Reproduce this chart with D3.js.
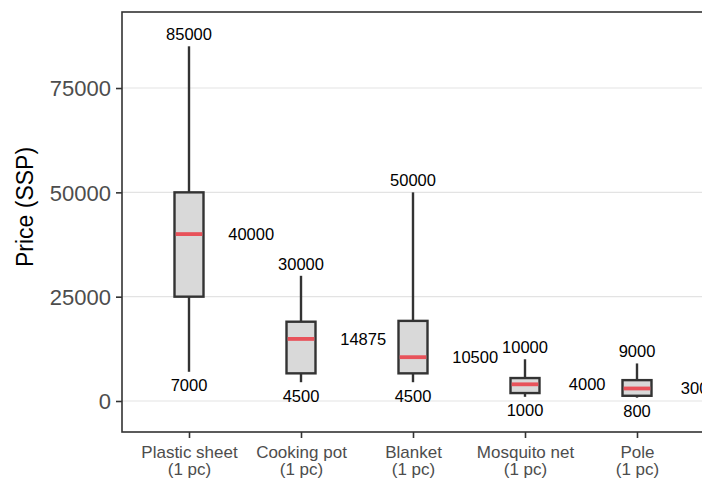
<!DOCTYPE html>
<html>
<head>
<meta charset="utf-8">
<script src="https://cdn.jsdelivr.net/npm/d3@7"></script>
<style>
  html, body { margin: 0; padding: 0; background: #fff; overflow: hidden; }
  svg { display: block; }
</style>
</head>
<body>
<div id="chart"></div>
<script>
// ---- Data ----
const categories = ["Plastic sheet", "Cooking pot", "Blanket", "Mosquito net", "Pole"];
const categorySub = ["(1 pc)", "(1 pc)", "(1 pc)", "(1 pc)", "(1 pc)"];
const whiskerLow  = [7000, 4500, 4500, 1000, 800];
const q1          = [25000, 6625, 6625, 1900, 1250];
const medians     = [40000, 14875, 10500, 4000, 3000];
const q3          = [50000, 19000, 19200, 5500, 5000];
const whiskerHigh = [85000, 30000, 50000, 10000, 9000];
const yTicks = [0, 25000, 50000, 75000];

// ---- Layout ----
const W = 702, H = 480;
const panel = { left: 122, top: 12, bottom: 432 };

const x = d3.scalePoint().domain(categories).range([189, 637]);
const step = x.step();
const panelRight = x(categories[categories.length - 1]) + 0.6 * step + step; // extends beyond frame
const y = d3.scaleLinear().domain([-7430, 93220]).range([panel.bottom, panel.top]);

const svg = d3.select("#chart").append("svg")
  .attr("width", W).attr("height", H)
  .style("font-family", "'Liberation Sans', Arial, sans-serif");

// gridlines
svg.append("g").selectAll("line").data(yTicks).join("line")
  .attr("x1", panel.left).attr("x2", panelRight)
  .attr("y1", d => y(d)).attr("y2", d => y(d))
  .attr("stroke", "#e3e3e3").attr("stroke-width", 1.1);

// y axis
const yAxis = d3.axisLeft(y).tickValues(yTicks).tickSize(6).tickPadding(5).tickFormat(d3.format("d"));
const gy = svg.append("g").attr("transform", `translate(${panel.left},0)`).call(yAxis);
gy.select(".domain").remove();
gy.selectAll(".tick line").attr("stroke", "#333").attr("stroke-width", 1.6);
gy.selectAll(".tick text").attr("fill", "#4d4d4d").style("font-size", "22px")
  .attr("dy", "0.36em");

// x axis
const xAxis = d3.axisBottom(x).tickSize(6).tickPadding(4).tickFormat("");
const gx = svg.append("g").attr("transform", `translate(0,${panel.bottom})`).call(xAxis);
gx.select(".domain").remove();
gx.selectAll(".tick line").attr("stroke", "#333").attr("stroke-width", 1.6);
gx.selectAll(".tick").each(function(d, i) {
  const t = d3.select(this).append("text")
    .attr("fill", "#4d4d4d").style("font-size", "17px")
    .attr("text-anchor", "middle");
  t.append("tspan").attr("x", 0).attr("y", 26).text(d);
  t.append("tspan").attr("x", 0).attr("y", 43).text(categorySub[i]);
});

// y title
svg.append("text")
  .attr("transform", `translate(33,207) rotate(-90)`)
  .attr("text-anchor", "middle")
  .style("font-size", "23px").attr("fill", "#000")
  .text("Price (SSP)");

// boxes
const boxW = 29;
const data = categories.map((c, i) => ({
  c, lo: whiskerLow[i], q1: q1[i], med: medians[i], q3: q3[i], hi: whiskerHigh[i]
}));
const g = svg.append("g");
const bg = g.selectAll("g.box").data(data).join("g").attr("class", "box");

bg.append("line")
  .attr("x1", d => x(d.c)).attr("x2", d => x(d.c))
  .attr("y1", d => y(d.q3)).attr("y2", d => y(d.hi))
  .attr("stroke", "#333").attr("stroke-width", 2.4);
bg.append("line")
  .attr("x1", d => x(d.c)).attr("x2", d => x(d.c))
  .attr("y1", d => y(d.q1)).attr("y2", d => y(d.lo))
  .attr("stroke", "#333").attr("stroke-width", 2.4);
bg.append("rect")
  .attr("x", d => x(d.c) - boxW / 2).attr("width", boxW)
  .attr("y", d => y(d.q3)).attr("height", d => y(d.q1) - y(d.q3))
  .attr("fill", "#d9d9d9").attr("stroke", "#333").attr("stroke-width", 2.4);
bg.append("line")
  .attr("x1", d => x(d.c) - boxW / 2 + 1.2).attr("x2", d => x(d.c) + boxW / 2 - 1.2)
  .attr("y1", d => y(d.med)).attr("y2", d => y(d.med))
  .attr("stroke", "#e8525a").attr("stroke-width", 3.8);

// labels
const lblSize = "16.5px";
bg.append("text")
  .attr("x", d => x(d.c)).attr("y", d => y(d.hi) - 12)
  .attr("dy", "0.36em").attr("text-anchor", "middle")
  .style("font-size", lblSize).attr("fill", "#000")
  .text(d => d.hi);
bg.append("text")
  .attr("x", d => x(d.c)).attr("y", d => y(d.lo) + 13.5)
  .attr("dy", "0.36em").attr("text-anchor", "middle")
  .style("font-size", lblSize).attr("fill", "#000")
  .text(d => d.lo);
bg.append("text")
  .attr("x", d => x(d.c) + 0.555 * step).attr("y", d => y(d.med))
  .attr("dy", "0.36em").attr("text-anchor", "middle")
  .style("font-size", lblSize).attr("fill", "#000")
  .text(d => d.med);

// panel border
svg.append("rect")
  .attr("x", panel.left).attr("y", panel.top)
  .attr("width", panelRight - panel.left).attr("height", panel.bottom - panel.top)
  .attr("fill", "none").attr("stroke", "#333").attr("stroke-width", 1.6);
</script>
</body>
</html>
